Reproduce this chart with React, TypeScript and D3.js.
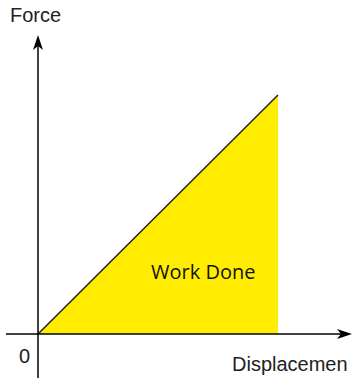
import { useEffect, useRef } from 'react';
import * as d3 from 'd3';

// force vs displacement, straight line from origin
const displacement = [0, 10];
const force = [0, 10];
const axisLabels = ['Force', 'Displacemen', '0'];
const areaLabel = 'Work Done';

export default function App() {
    const ref = useRef<SVGSVGElement>(null);

    useEffect(() => {
        const svg = d3.select(ref.current);
        svg.selectAll('*').remove();

        const x = d3.scaleLinear().domain([0, 10]).range([38, 278]);
        const y = d3.scaleLinear().domain([0, 10]).range([334, 95]);

        const pts = displacement.map((d, i) => [d, force[i]] as [number, number]);

        // area under the line
        const area = d3
            .area<[number, number]>()
            .x((d) => x(d[0]))
            .y0(y(0))
            .y1((d) => y(d[1]));
        svg.append('path').datum(pts).attr('d', area).attr('fill', '#ffec00');

        const line = d3
            .line<[number, number]>()
            .x((d) => x(d[0]))
            .y((d) => y(d[1]));
        svg.append('path')
            .datum(pts)
            .attr('d', line)
            .attr('fill', 'none')
            .attr('stroke', '#222')
            .attr('stroke-width', 1.5);

        // axes
        const x0 = x(0);
        const y0 = y(0);
        svg.append('line')
            .attr('x1', x0)
            .attr('x2', x0)
            .attr('y1', 378)
            .attr('y2', 44)
            .attr('stroke', '#000')
            .attr('stroke-width', 1.5);
        svg.append('path')
            .attr('d', `M${x0},35 L${x0 - 5},50 L${x0},46 L${x0 + 5},50 Z`)
            .attr('fill', '#000');

        svg.append('line')
            .attr('x1', 6)
            .attr('x2', 343)
            .attr('y1', y0)
            .attr('y2', y0)
            .attr('stroke', '#000')
            .attr('stroke-width', 1.5);
        svg.append('path')
            .attr('d', `M352,${y0} L337,${y0 - 5} L341,${y0} L337,${y0 + 5} Z`)
            .attr('fill', '#000');

        const font = 'Liberation Sans, Arial, sans-serif';
        svg.append('text')
            .attr('x', 10)
            .attr('y', 22)
            .attr('font-family', font)
            .attr('font-size', 20)
            .attr('fill', '#222')
            .text(axisLabels[0]);
        svg.append('text')
            .attr('x', 232)
            .attr('y', 371)
            .attr('font-family', font)
            .attr('font-size', 20)
            .attr('fill', '#222')
            .text(axisLabels[1]);
        svg.append('text')
            .attr('x', 19)
            .attr('y', 363)
            .attr('font-family', font)
            .attr('font-size', 20)
            .attr('fill', '#222')
            .text(axisLabels[2]);

        svg.append('text')
            .attr('x', 151)
            .attr('y', 279)
            .attr('font-family', 'Open Sans, sans-serif')
            .attr('font-size', 20)
            .attr('fill', '#111')
            .text(areaLabel);
    }, []);

    return (
        <svg
            ref={ref}
            width={354}
            height={378}
            style={{ position: 'absolute', left: 0, top: 0, background: '#fff' }}
        />
    );
}
